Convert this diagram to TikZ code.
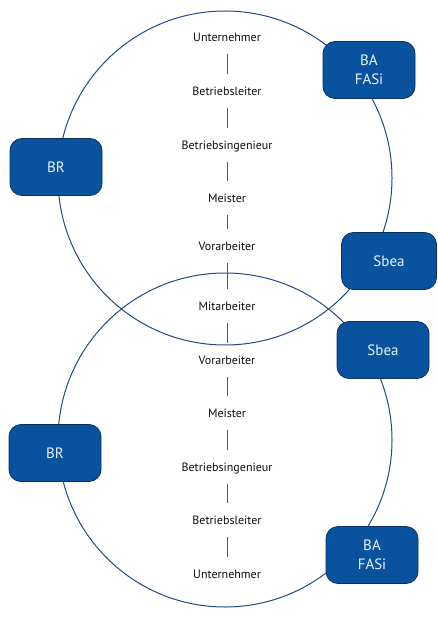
\documentclass[tikz,border=0pt]{standalone}
\usepackage{fontspec}
\setmainfont{PT Sans}
\definecolor{boxblue}{RGB}{8,82,158}
\definecolor{boxedge}{RGB}{10,50,100}
\definecolor{ringblue}{RGB}{35,75,130}
\definecolor{boxtext}{RGB}{235,242,255}
\definecolor{linkgray}{RGB}{90,90,90}
\definecolor{labeltext}{RGB}{15,15,15}
\tikzset{
  rolebox/.style={draw=boxedge, fill=boxblue, rounded corners=12pt, line width=0.8pt,
    minimum width=92pt, minimum height=57pt, text=boxtext, align=center,
    font=\fontsize{15}{19.5}\selectfont},
  rolelabel/.style={font=\fontsize{12}{14}\selectfont, text=labeltext, text height=8.5pt, text depth=2pt, inner sep=4pt},
  ring/.style={draw=ringblue, line width=1pt},
  link/.style={draw=linkgray, line width=0.7pt, shorten <=7pt, shorten >=9pt}
}
\begin{document}
\begin{tikzpicture}[x=1pt,y=-1pt]
\useasboundingbox (0,0) rectangle (438,617);
\fill[white] (0,0) rectangle (438,617);
\coordinate (ctop) at (225,178);
\coordinate (cbot) at (225,440);
\draw[ring] (ctop) circle[radius=167];
\draw[ring] (cbot) circle[radius=167];

\node[rolelabel] (u1) at (227,38) {Unternehmer};
\node[rolelabel] (l1) at (227,92) {Betriebsleiter};
\node[rolelabel] (i1) at (227,146) {Betriebsingenieur};
\node[rolelabel] (m1) at (227,199) {Meister};
\node[rolelabel] (v1) at (227,247) {Vorarbeiter};
\node[rolelabel] (ma) at (227,307) {Mitarbeiter};
\node[rolelabel] (v2) at (227,361) {Vorarbeiter};
\node[rolelabel] (m2) at (227,414) {Meister};
\node[rolelabel] (i2) at (227,468) {Betriebsingenieur};
\node[rolelabel] (l2) at (227,521) {Betriebsleiter};
\node[rolelabel] (u2) at (227,575) {Unternehmer};

\draw[link] (u1) -- (l1);
\draw[link] (l1) -- (i1);
\draw[link] (i1) -- (m1);
\draw[link] (m1) -- (v1);
\draw[link] (v1) -- (ma);
\draw[link] (ma) -- (v2);
\draw[link] (v2) -- (m2);
\draw[link] (m2) -- (i2);
\draw[link] (i2) -- (l2);
\draw[link] (l2) -- (u2);

\node[rolebox] (ba1) at (369,70) {BA\\FASi};
\node[rolebox] (br1) at (56,167) {BR};
\node[rolebox, minimum width=95pt] (sb1) at (389,261) {Sbea};
\node[rolebox] (sb2) at (383,350) {Sbea};
\node[rolebox] (br2) at (55,453) {BR};
\node[rolebox] (ba2) at (372,555) {BA\\FASi};
\end{tikzpicture}
\end{document}
